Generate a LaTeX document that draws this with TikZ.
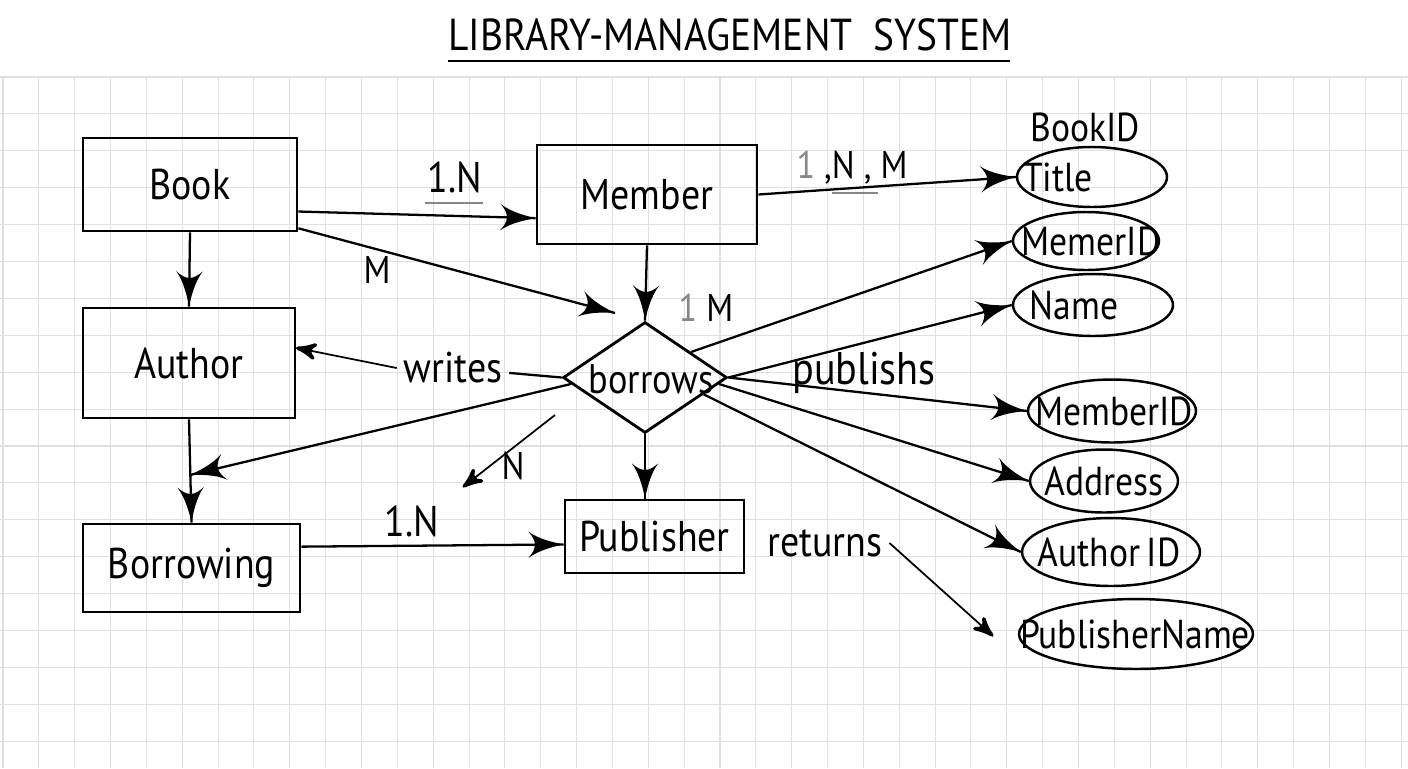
\documentclass[tikz,border=0pt]{standalone}
\usepackage{fontspec}
\setmainfont{PT Sans}[FakeStretch=0.88]
\usepackage{tikz}
\usetikzlibrary{arrows}
\usetikzlibrary{decorations.markings}
\usetikzlibrary{shapes.geometric}
\definecolor{gridline}{RGB}{224,224,224}
\definecolor{pencil}{RGB}{135,135,135}
\tikzset{tip/.style = {decoration={markings,
                                  mark=at position 1 with {\arrow[scale=3]{latex'}}},
                      postaction={decorate}}}
\tikzset{thintip/.style = {decoration={markings,
                                  mark=at position 1 with {\arrow[scale=2]{stealth'}}},
                      postaction={decorate}}}
\tikzset{entity/.style = {draw, rectangle, line width=1.6pt, inner sep=0pt}}
\tikzset{attr/.style = {draw, ellipse, line width=1.4pt, inner sep=0pt}}
\tikzset{attrtext/.style = {font=\fontsize{23}{27}\selectfont}}
\tikzset{small/.style = {font=\fontsize{22}{26}\selectfont}}

\begin{document}
\begin{tikzpicture}[x=0.02cm, y=-0.02cm, line width=1.3pt, font=\fontsize{24.5}{29}\selectfont]
      \useasboundingbox (0, 0) rectangle (1408, 768);
      \fill [white] (0, 0) rectangle (1408, 768);
      \foreach \gx in {0, ..., 39}
        \draw [gridline, line width=0.6pt] (3 + 35.85*\gx, 77) -- (3 + 35.85*\gx, 768);
      \foreach \gy in {0, ..., 18}
        \draw [gridline, line width=0.6pt] (0, 77 + 36.9*\gy) -- (1408, 77 + 36.9*\gy);

      \node [font=\fontsize{25.5}{30}\selectfont] (heading) at (730, 35) {LIBRARY-MANAGEMENT\ \ SYSTEM};
      \draw [line width=1.5pt] (448, 61) -- (1010, 61);

      \node [entity, minimum width=4.28cm, minimum height=1.86cm] (book) at (190, 184.5) {Book};
      \node [entity, minimum width=4.4cm, minimum height=1.98cm] (member) at (647, 194.5) {Member};
      \node [entity, minimum width=4.24cm, minimum height=2.2cm] (author) at (189, 363) {Author};
      \node [entity, minimum width=4.34cm, minimum height=1.76cm] (borrowing) at (191.5, 568) {Borrowing};
      \node [entity, minimum width=3.58cm, minimum height=1.46cm] (publisher) at (654.5, 536.5) {Publisher};
      \node [draw, diamond, line width=1.6pt, inner sep=0pt, minimum width=3.28cm, minimum height=2.22cm] (borrows) at (645, 377.5) {};
      \node [font=\fontsize{23.5}{28}\selectfont] (borrowstxt) at (651, 379) {borrows};

      \node [attr, minimum width=3.0cm, minimum height=1.2cm] (title) at (1092, 177) {};
      \node [attrtext] (titletxt) at (1058, 177) {Title};
      \node [attr, minimum width=2.92cm, minimum height=1.16cm] (memerid) at (1086, 241) {};
      \node [attrtext] (memeridtxt) at (1091, 241) {MemerID};
      \node [attr, minimum width=3.2cm, minimum height=1.24cm] (name) at (1093, 305) {};
      \node [attrtext] (nametxt) at (1074, 305) {Name};
      \node [attr, minimum width=3.36cm, minimum height=1.26cm] (memberid) at (1112, 411) {};
      \node [attrtext] (memberidtxt) at (1114, 411) {MemberID};
      \node [attr, minimum width=2.96cm, minimum height=1.26cm] (address) at (1104, 481) {};
      \node [attrtext] (addresstxt) at (1104, 481) {Address};
      \node [attr, minimum width=3.56cm, minimum height=1.36cm] (authorid) at (1111, 552) {};
      \node [attrtext] (authoridtxt) at (1109, 552) {Author\,ID};
      \node [attr, minimum width=4.68cm, minimum height=1.4cm] (pubname) at (1136, 634) {};
      \node [attrtext] (pubnametxt) at (1135, 634) {PublisherName};
      \node [attrtext] (bookid) at (1085, 127) {BookID};

      \node (writes) at (453, 368) {writes};
      \node [font=\fontsize{26}{30}\selectfont] (publishs) at (864, 373) {publishs};
      \node (returns) at (825, 543) {returns};

      \node (card1) at (455, 177) {1.N};
      \draw [pencil, line width=1pt] (425, 203) -- (483, 203);
      \node [small] (card2) at (377, 270) {M};
      \node [small] (card3) at (852, 168) {\textcolor{pencil}{1}\ ,N\ ,\ M};
      \draw [pencil, line width=1pt] (832, 193) -- (878, 193);
      \node [small] (card4) at (706, 308) {\textcolor{pencil}{1}\ M};
      \node [small] (card5) at (513, 466) {N};
      \node (card6) at (412, 521) {1.N};

      \coordinate (bdend) at (615, 313);
      \coordinate (join) at (190, 475);
      \coordinate (nstart) at (555, 415);
      \coordinate (nend) at (463, 487);
      \coordinate (retend) at (993, 636);

      \draw [tip] (book.-14) -- (member.192);
      \draw [tip] (book.-22) -- (bdend);
      \draw [tip] (book.south) -- (author.north);
      \draw [tip] (member.south) -- (borrows.north);
      \draw [tip] (member.east) -- (title.west);
      \draw [tip] (author.south) -- (borrowing.north);
      \draw [tip] (borrows.185) -- (join);
      \draw (writes) -- (borrows.west);
      \draw [thintip, line width=1pt] (writes.west) -- (author.8);
      \draw [thintip, line width=1pt] (nstart) -- (nend);
      \draw [tip] (borrows.south) -- (borrows.south |- publisher.north);
      \draw [tip] (borrows.29) -- (memerid.west);
      \draw [tip] (borrows.east) -- (name.west);
      \draw [tip] (borrows.east) -- (memberid.west);
      \draw [tip] (borrows.-5) -- (address.west);
      \draw [tip] (borrows.-16) -- (authorid.west);
      \draw [tip] (borrowing.11) -- (publisher.185);
      \draw [thintip, line width=1pt] (returns.east) -- (retend);
    \end{tikzpicture}
\end{document}
